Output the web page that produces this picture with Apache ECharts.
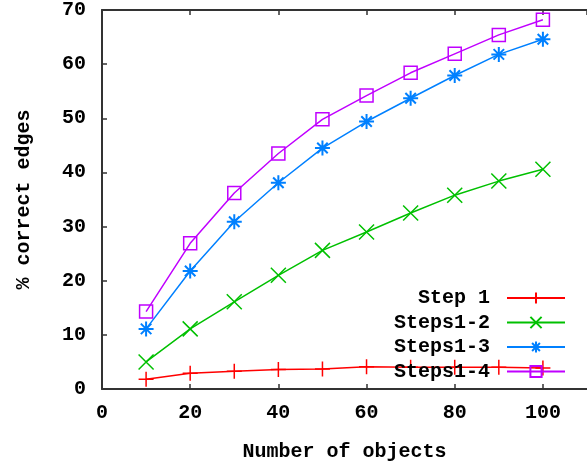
<!DOCTYPE html>
<html><head><meta charset="utf-8">
<script src="https://cdn.jsdelivr.net/npm/echarts@6/dist/echarts.min.js"></script>
<style>html,body{margin:0;padding:0;background:#fff}#c{width:587px;height:468px}</style>
</head><body><div id="c"></div>
<script>
const xValues = [10, 20, 30, 40, 50, 60, 70, 80, 90, 100];
const step1 = [1.8, 2.9, 3.3, 3.6, 3.7, 4.1, 4.0, 4.0, 4.0, 3.9];
const steps12 = [5.0, 11.1, 16.1, 21.0, 25.6, 29.0, 32.5, 35.8, 38.4, 40.6];
const steps13 = [11.1, 21.8, 30.9, 38.1, 44.5, 49.4, 53.7, 57.9, 61.8, 64.6];
const steps14 = [14.3, 26.9, 36.2, 43.5, 49.8, 54.2, 58.4, 61.9, 65.4, 68.2];
const seriesNames = ['Step 1', 'Steps1-2', 'Steps1-3', 'Steps1-4'];
const xTitle = 'Number of objects';
const yTitle = '% correct edges';

const FONT = '"Liberation Mono", "DejaVu Sans Mono", monospace';
const AX = '#333';
const colors = ['#ff0000', '#00c000', '#0080ff', '#c000ff'];
const symbols = [
  'path://M5 0V10M0 5H10',
  'path://M0 0L10 10M10 0L0 10',
  'path://M5 0V10M0 5H10M1.5 1.5L8.5 8.5M8.5 1.5L1.5 8.5',
  'path://M0 0H10V10H0Z'
];
const datas = [step1, steps12, steps13, steps14];

function pairs(arr) { return xValues.map((x, i) => [x, arr[i]]); }

const series = datas.map((d, i) => ({
  name: seriesNames[i],
  type: 'line',
  data: pairs(d),
  symbol: symbols[i],
  symbolSize: i === 3 ? 13 : 15,
  showAllSymbol: true,
  animation: false,
  lineStyle: { color: colors[i], width: 1.5 },
  itemStyle: { color: 'rgba(0,0,0,0)', borderColor: colors[i], borderWidth: i === 2 ? 2 : 1.5 },
  emphasis: { disabled: true },
  z: 2 + i
}));

const chart = echarts.init(document.getElementById('c'), null, { renderer: 'canvas' });
chart.setOption({
  animation: false,
  backgroundColor: '#fff',
  grid: { left: 102, top: 10, bottom: 79, right: -5, containLabel: false },
  legend: {
    orient: 'vertical',
    align: 'right',
    right: 21,
    top: 288,
    itemWidth: 58,
    itemHeight: 14,
    itemGap: 4.5,
    padding: 0,
    selectedMode: false,
    textStyle: { fontFamily: FONT, fontWeight: 'bold', fontSize: 20, color: '#000', lineHeight: 20, padding: [0, 12, 0, 0] },
    data: seriesNames
  },
  xAxis: [{
    type: 'value', min: 0, max: 110, interval: 20,
    name: xTitle, nameLocation: 'middle', nameGap: 53,
    nameTextStyle: { fontFamily: FONT, fontWeight: 'bold', fontSize: 20, color: '#000' },
    axisLine: { show: true, lineStyle: { color: AX, width: 2 } },
    axisTick: { show: true, inside: true, length: 5, lineStyle: { color: AX, width: 1.5 } },
    axisLabel: { fontFamily: FONT, fontWeight: 'bold', fontSize: 20, color: '#000', margin: 14, showMaxLabel: false },
    splitLine: { show: false }
  }, {
    type: 'value', position: 'top', min: 0, max: 110, interval: 20,
    axisLine: { show: true, lineStyle: { color: AX, width: 2 } },
    axisTick: { show: true, inside: true, length: 5, lineStyle: { color: AX, width: 1.5 } },
    axisLabel: { show: false },
    splitLine: { show: false }
  }],
  yAxis: {
    type: 'value', min: 0, max: 70, interval: 10,
    name: yTitle, nameLocation: 'middle', nameGap: 68,
    nameTextStyle: { fontFamily: FONT, fontWeight: 'bold', fontSize: 20, color: '#000' },
    axisLine: { show: true, lineStyle: { color: AX, width: 2 } },
    axisTick: { show: true, inside: true, length: 5, lineStyle: { color: AX, width: 1.5 } },
    axisLabel: { fontFamily: FONT, fontWeight: 'bold', fontSize: 20, color: '#000', margin: 16 },
    splitLine: { show: false }
  },
  series: series
});
</script></body></html>
